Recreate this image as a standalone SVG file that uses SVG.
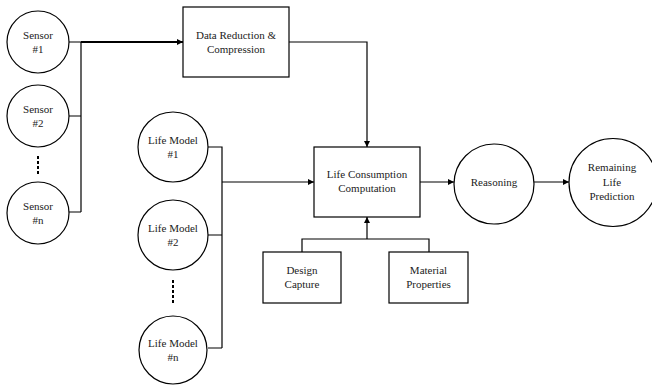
<svg xmlns="http://www.w3.org/2000/svg" width="652" height="388" viewBox="0 0 652 388">
<style>
.n{fill:#fff;stroke:#000;stroke-width:1.2}
text{font-family:'Liberation Serif','DejaVu Serif',serif;font-size:11px;fill:#222;text-anchor:middle}
.c{fill:none;stroke:#000;stroke-width:1.2}
.b{fill:none;stroke:#000;stroke-width:2.2}
.d{fill:none;stroke:#000;stroke-width:2;stroke-dasharray:3,2}
</style>
<defs>
<marker id="a" viewBox="0 0 10 10" refX="10" refY="5" markerWidth="8" markerHeight="6" markerUnits="userSpaceOnUse" orient="auto">
<path d="M0,0 L10,5 L0,10 z" fill="#000"/>
</marker>
</defs>
<rect width="652" height="388" fill="#fff"/>
<g id="connectors">
<path class="c" d="M69,42 H81 V212 M69,116 H81 M69,212 H81"/>
<path class="b" d="M81,42 H183" marker-end="url(#a)"/>
<path class="c" d="M289,42 H367 V147" marker-end="url(#a)"/>
<path class="c" d="M208,147 H222 V348 M208,235 H222 M208,348 H222"/>
<path class="c" d="M222,182 H314" marker-end="url(#a)"/>
<path class="c" d="M302,252 V239 H429 V252"/>
<path class="c" d="M367,239 V217" marker-end="url(#a)"/>
<path class="c" d="M420,182 H454" marker-end="url(#a)"/>
<path class="c" d="M534,182 H569" marker-end="url(#a)"/>
<path class="d" d="M38,156 V174"/>
<path class="d" d="M173,280 V305"/>
</g>
<g id="sensor1"><circle class="n" cx="38" cy="42" r="31"/><text x="38" y="39">Sensor</text><text x="38" y="53">#1</text></g>
<g id="sensor2"><circle class="n" cx="38" cy="116" r="31"/><text x="38" y="113">Sensor</text><text x="38" y="127">#2</text></g>
<g id="sensorn"><circle class="n" cx="38" cy="213" r="31"/><text x="38" y="210">Sensor</text><text x="38" y="224">#n</text></g>
<g id="datareduction"><rect class="n" x="183" y="7" width="106" height="70"/><text x="236" y="39">Data Reduction &amp;</text><text x="236" y="53">Compression</text></g>
<g id="lifemodel1"><circle class="n" cx="173" cy="147" r="35"/><text x="173" y="144">Life Model</text><text x="173" y="158">#1</text></g>
<g id="lifemodel2"><circle class="n" cx="173" cy="235" r="35"/><text x="173" y="232">Life Model</text><text x="173" y="246">#2</text></g>
<g id="lifemodeln"><circle class="n" cx="173" cy="350" r="34"/><text x="173" y="347">Life Model</text><text x="173" y="361">#n</text></g>
<g id="lifeconsumption"><rect class="n" x="314" y="147" width="106" height="70"/><text x="367" y="178">Life Consumption</text><text x="367" y="192">Computation</text></g>
<g id="designcapture"><rect class="n" x="263" y="252" width="78" height="51"/><text x="302" y="274">Design</text><text x="302" y="288">Capture</text></g>
<g id="materialproperties"><rect class="n" x="389" y="252" width="79" height="51"/><text x="428.5" y="274">Material</text><text x="428.5" y="288">Properties</text></g>
<g id="reasoning"><circle class="n" cx="494" cy="184" r="40"/><text x="494" y="186">Reasoning</text></g>
<g id="remaining"><circle class="n" cx="613" cy="182.5" r="44"/><text x="612" y="171">Remaining</text><text x="612" y="186">Life</text><text x="612" y="200">Prediction</text></g>
</svg>
